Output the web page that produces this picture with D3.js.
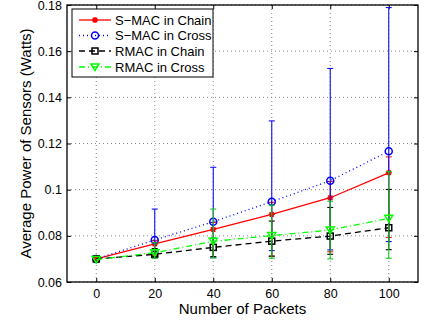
<!DOCTYPE html>
<html><head><meta charset="utf-8">
<script src="https://cdn.jsdelivr.net/npm/d3@7"></script>
<style>body{margin:0;background:#fff}svg{display:block}text{font-family:"Liberation Sans",Arial,sans-serif;fill:#000}</style>
</head><body><svg id="c" width="427" height="324"></svg>
<script>
const packets = [0, 20, 40, 60, 80, 100];
const smacChain = [0.0700, 0.0765, 0.0828, 0.0893, 0.0965, 0.1073];
const smacChainLo = [0.0700, 0.0715, 0.0708, 0.0712, 0.0731, 0.0793];
const smacChainHi = [0.0700, 0.0780, 0.0858, 0.0945, 0.1035, 0.1142];
const smacCross = [0.0700, 0.0782, 0.0861, 0.0948, 0.1039, 0.1166];
const smacCrossLo = [0.0700, 0.0705, 0.0705, 0.0736, 0.0739, 0.0775];
const smacCrossHi = [0.0700, 0.0916, 0.1097, 0.1298, 0.1525, 0.1789];
const rmacChain = [0.0700, 0.0720, 0.0750, 0.0777, 0.0799, 0.0835];
const rmacChainLo = [0.0700, 0.0710, 0.0710, 0.0712, 0.0720, 0.0740];
const rmacChainHi = [0.0700, 0.0745, 0.0790, 0.0864, 0.0923, 0.1001];
const rmacCross = [0.0697, 0.0727, 0.0776, 0.0801, 0.0825, 0.0876];
const rmacCrossLo = [0.0697, 0.0703, 0.0705, 0.0703, 0.0700, 0.0703];
const rmacCrossHi = [0.0697, 0.0770, 0.0916, 0.0933, 0.0950, 0.1078];
const xTicks = [0, 20, 40, 60, 80, 100];
const yTicks = [0.06, 0.08, 0.1, 0.12, 0.14, 0.16, 0.18];
const legendLabels = ["S\u2212MAC in Chain", "S\u2212MAC in Cross", "RMAC in Chain", "RMAC in Cross"];

const svg = d3.select("#c");
const L = 67, R = 418, T = 5, B = 282;
const x = d3.scaleLinear().domain([-10, 110]).range([L, R]);
const y = d3.scaleLinear().domain([0.06, 0.18]).range([B, T]);

// grid
const g = svg.append("g");
g.selectAll(".gx").data(xTicks).enter().append("line")
  .attr("x1", d => x(d)).attr("x2", d => x(d)).attr("y1", T).attr("y2", B)
  .attr("stroke", "#555").attr("stroke-width", 0.7).attr("stroke-dasharray", "1,3");
g.selectAll(".gy").data(yTicks).enter().append("line")
  .attr("y1", d => y(d)).attr("y2", d => y(d)).attr("x1", L).attr("x2", R)
  .attr("stroke", "#555").attr("stroke-width", 0.7).attr("stroke-dasharray", "1,3");

// axes
const ax = svg.append("g").attr("transform", `translate(0,${B})`)
  .call(d3.axisBottom(x).tickValues(xTicks).tickSize(-4).tickPadding(7).tickFormat(d3.format("d")));
const ay = svg.append("g").attr("transform", `translate(${L},0)`)
  .call(d3.axisLeft(y).tickValues(yTicks).tickSize(-4).tickPadding(5).tickFormat(d => String(+d.toFixed(2))));
const axT = svg.append("g").attr("transform", `translate(0,${T})`)
  .call(d3.axisTop(x).tickValues(xTicks).tickSize(-4).tickFormat(""));
const ayR = svg.append("g").attr("transform", `translate(${R},0)`)
  .call(d3.axisRight(y).tickValues(yTicks).tickSize(-4).tickFormat(""));
[ax, ay, axT, ayR].forEach(a => {
  a.select(".domain").remove();
  a.selectAll("line").attr("stroke", "#000");
  a.selectAll("text").attr("font-size", 12.5).style("font-family", '"Liberation Sans",Arial,sans-serif');
});
svg.append("rect").attr("x", L).attr("y", T).attr("width", R - L).attr("height", B - T)
  .attr("fill", "none").attr("stroke", "#000").attr("stroke-width", 1.3);

svg.append("text").attr("x", (L + R) / 2).attr("y", 314).attr("text-anchor", "middle")
  .attr("font-size", 15).text("Number of Packets");
svg.append("text").attr("transform", `translate(31,${(T + B) / 2}) rotate(-90)`)
  .attr("text-anchor", "middle").attr("font-size", 15).text("Average Power of Sensors (Watts)");

const series = [
  {v: smacChain, lo: smacChainLo, hi: smacChainHi, color: "#ff0000", bar: "#ff2020", dash: null, mk: "star"},
  {v: smacCross, lo: smacCrossLo, hi: smacCrossHi, color: "#0000ff", bar: "#1010ee", dash: "1,3", mk: "circle"},
  {v: rmacChain, lo: rmacChainLo, hi: rmacChainHi, color: "#000000", bar: "#000000", dash: "6,4", mk: "square"},
  {v: rmacCross, lo: rmacCrossLo, hi: rmacCrossHi, color: "#00ff00", bar: "#18c818", dash: "6,3,1,3", mk: "tri"}
];

function marker(sel, type, color) {
  if (type === "star") {
    sel.append("path").attr("d", "M-3,0H3M0,-3V3M-2.2,-2.2L2.2,2.2M-2.2,2.2L2.2,-2.2")
      .attr("stroke", color).attr("stroke-width", 1.5).attr("fill", "none");
  } else if (type === "circle") {
    sel.append("circle").attr("r", 3.5).attr("fill", "none").attr("stroke", color).attr("stroke-width", 1.5);
  } else if (type === "square") {
    sel.append("rect").attr("x", -3).attr("y", -3).attr("width", 6).attr("height", 6)
      .attr("fill", "none").attr("stroke", color).attr("stroke-width", 1.5);
  } else {
    sel.append("path").attr("d", "M-4,-3L4,-3L0,3.5Z").attr("fill", "none")
      .attr("stroke", color).attr("stroke-width", 1.5);
  }
}

const line = d3.line().x((d, i) => x(packets[i])).y(d => y(d));
series.forEach(s => {
  const eg = svg.append("g");
  packets.forEach((p, i) => {
    if (s.hi[i] - s.lo[i] <= 0) return;
    const cx = x(p);
    eg.append("line").attr("x1", cx).attr("x2", cx).attr("y1", y(s.lo[i])).attr("y2", y(s.hi[i]))
      .attr("stroke", s.bar).attr("stroke-width", 1.1);
    [s.lo[i], s.hi[i]].forEach(val => eg.append("line").attr("x1", cx - 3).attr("x2", cx + 3)
      .attr("y1", y(val)).attr("y2", y(val)).attr("stroke", s.bar).attr("stroke-width", 1.1));
  });
  svg.append("path").datum(s.v).attr("d", line).attr("fill", "none").attr("stroke", s.color)
    .attr("stroke-width", 1.3).attr("stroke-dasharray", s.dash);
  s.v.forEach((d, i) => marker(svg.append("g").attr("transform", `translate(${x(packets[i])},${y(d)})`), s.mk, s.color));
});

// legend
const lg = svg.append("g");
lg.append("rect").attr("x", 72).attr("y", 9).attr("width", 141).attr("height", 68)
  .attr("fill", "#fff").attr("stroke", "#000").attr("stroke-width", 1);
const ly = [20, 35.5, 51, 67];
series.forEach((s, i) => {
  lg.append("line").attr("x1", 79).attr("x2", 111).attr("y1", ly[i]).attr("y2", ly[i])
    .attr("stroke", s.color).attr("stroke-width", 1.3).attr("stroke-dasharray", s.dash);
  marker(lg.append("g").attr("transform", `translate(95,${ly[i]})`), s.mk, s.color);
  lg.append("text").attr("x", 115).attr("y", ly[i] + 4.7).attr("font-size", 13).text(legendLabels[i]);
});
</script></body></html>
